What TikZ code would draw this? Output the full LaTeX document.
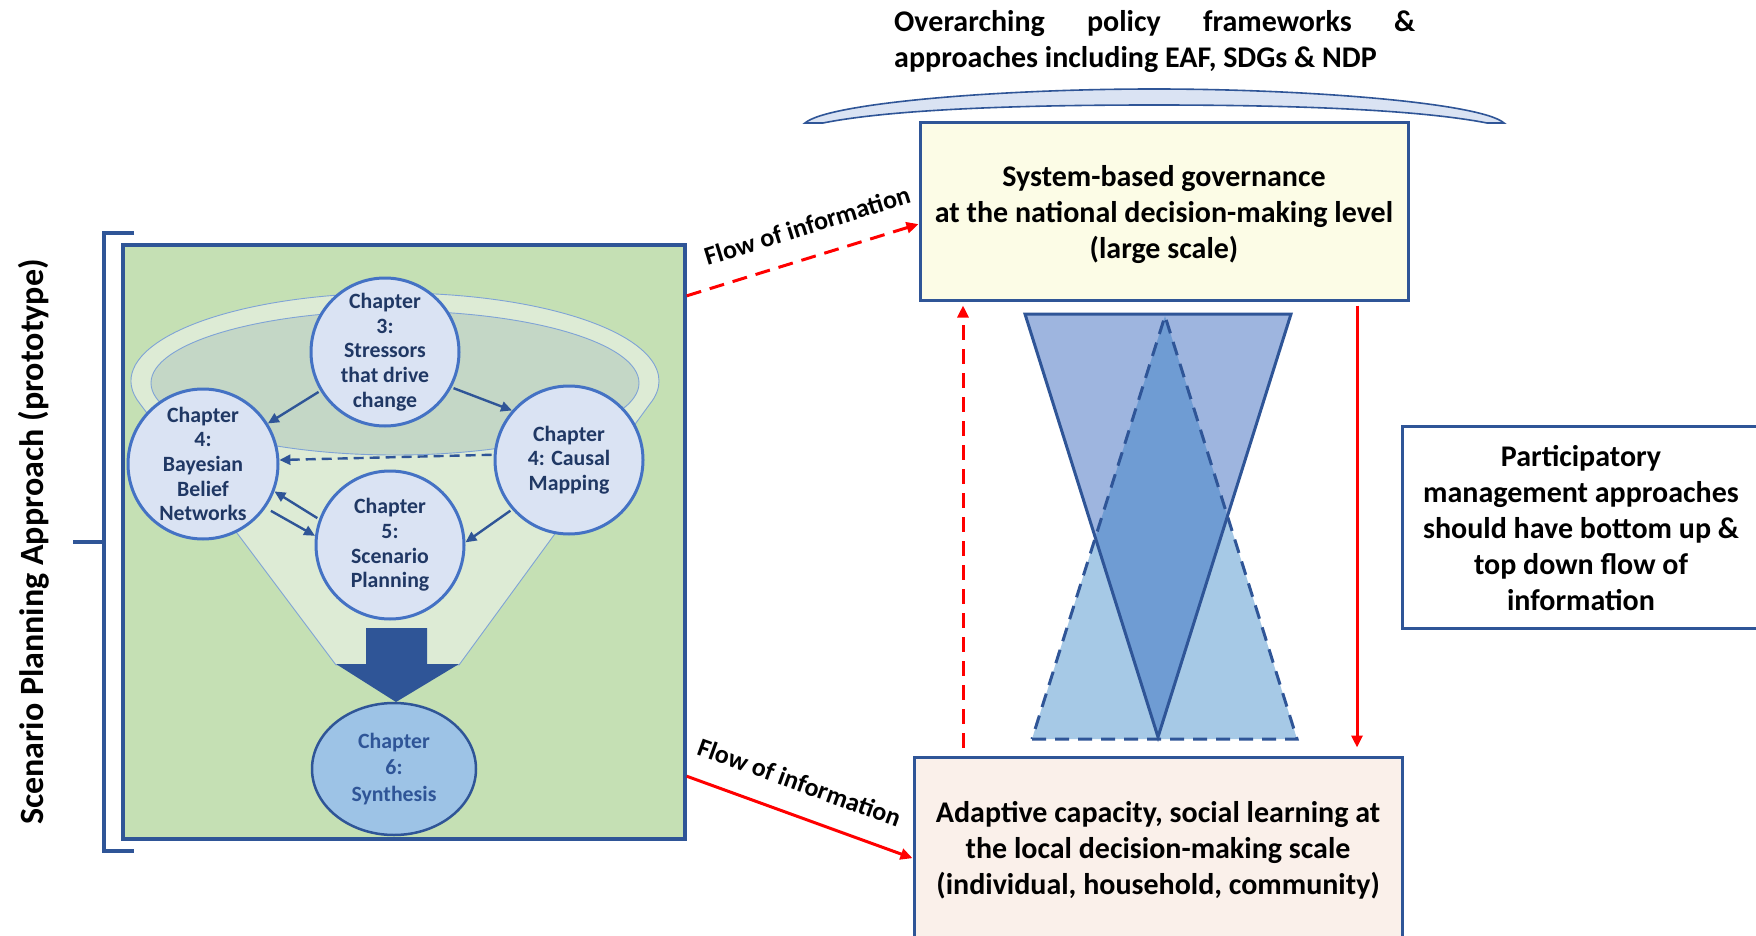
\documentclass[tikz,border=0pt]{standalone}
\usepackage{fontspec}
\setmainfont{Carlito}
\usetikzlibrary{arrows.meta,calc,shapes.geometric}
\definecolor{dblue}{HTML}{2F5597}
\definecolor{cblue}{HTML}{4472C4}
\definecolor{cfill}{HTML}{DAE3F3}
\definecolor{ctext}{HTML}{203864}
\definecolor{gfill}{HTML}{C5E0B4}
\definecolor{flight}{HTML}{DDEBD5}
\definecolor{finner}{HTML}{C4D7C6}
\definecolor{fedge}{HTML}{7FA3D6}
\definecolor{sfill}{HTML}{9DC3E6}
\definecolor{yfill}{HTML}{FCFCE6}
\definecolor{pfill}{HTML}{FAF0EA}
\definecolor{downtri}{HTML}{9EB5DF}
\definecolor{uptri}{HTML}{A6C9E6}
\definecolor{overlap}{HTML}{6F9CD3}
\begin{document}
\begin{tikzpicture}[x=1pt,y=-1pt,
  chap/.style={circle, draw=cblue, line width=3pt, fill=cfill, text=ctext,
    font=\bfseries\fontsize{21.8}{24.6}\selectfont, align=center, inner sep=0pt, minimum size=148pt},
  bigbox/.style={draw=dblue, line width=3pt, inner sep=0pt},
  boxtxt/.style={align=center, font=\bfseries\fontsize{30}{36}\selectfont, inner sep=0pt},
  flow/.style={red, line width=3pt, -{Triangle[length=12pt,width=11pt]}},
  inarrow/.style={dblue, line width=2.4pt, -{Triangle[length=11pt,width=10pt]}, shorten <=2pt},
  lbl/.style={font=\bfseries\fontsize{26}{30}\selectfont, text=black, inner sep=0pt},
  redash/.style={dash pattern=on 15pt off 9pt}
]
\useasboundingbox (0,0) rectangle (1756,936);
\clip (0,0) rectangle (1756,936);
\fill[white] (0,0) rectangle (1756,936);

% ---- left panel ----
\node[draw=dblue, line width=3.5pt, fill=gfill, minimum width=562pt, minimum height=594pt, inner sep=0pt] (gbox) at (404,542) {};
\draw[dblue, line width=4.5pt] (134,233) -- (104,233) -- (104,851) -- (134,851);
\draw[dblue, line width=4.5pt] (73,542) -- (104,542);
\node[rotate=90, font=\bfseries\fontsize{34}{38}\selectfont] (vlabel) at (34,542) {Scenario Planning Approach (prototype)};

% funnel
\path[fill=flight, draw=fedge, line width=0.9pt] (395,381) ++(165:264 and 88)
  arc[start angle=165, end angle=375, x radius=264, y radius=88] -- (459,665) -- (336,665) -- cycle;
\path[fill=finner, draw=fedge, line width=0.9pt] (395,383) ellipse [x radius=244, y radius=72];

% block arrow
\fill[dblue] (366,628) -- (427,628) -- (427,664) -- (459,664) -- (396,702) -- (336,664) -- (366,664) -- cycle;

% chapters
\node[chap] (ch3) at (385,352) {Chapter\\3:\\Stressors\\that drive\\change};
\node[chap, minimum size=150pt] (bbn) at (203,464) {Chapter\\4:\\Bayesian\\Belief\\Networks};
\node[chap] (cm) at (569,460) {Chapter\\4: Causal\\Mapping};
\node[chap] (ch5) at (390,545) {Chapter\\5:\\Scenario\\Planning};
\node[ellipse, draw=dblue, line width=2.5pt, fill=sfill, text=dblue, inner sep=0pt,
  minimum width=164pt, minimum height=132pt, align=center,
  font=\bfseries\fontsize{21.8}{26.5}\selectfont] (ch6) at (394,769) {Chapter\\6:\\Synthesis};

\draw[inarrow] (ch3.211) -- (bbn.32);
\draw[inarrow] (ch3.-28) -- (cm.139);
\draw[inarrow, dash pattern=on 10pt off 6pt] (cm.176) -- (bbn.3);
\draw[inarrow] (ch5.160) -- (bbn.-21);
\draw[inarrow, shorten <=6pt] (bbn.-35) -- (ch5.173);
\draw[inarrow] (cm.221) -- (ch5.2);

% ---- right panel ----
\node[anchor=north west, text width=521pt, align=justify, inner sep=0pt,
  font=\bfseries\fontsize{30}{36}\selectfont] (over) at (894,10)
  {Overarching policy frameworks \&\linebreak approaches including EAF, SDGs \& NDP};
\path[fill=cfill, draw=dblue, line width=1.6pt]
  (805,123) .. controls (828,103) and (1000,89) .. (1154,89)
  .. controls (1308,89) and (1481,103) .. (1504,123)
  -- (1487,123) .. controls (1420,110) and (1300,105) .. (1154,105)
  .. controls (1008,105) and (888,110) .. (823,123) -- cycle;

\node[bigbox, fill=yfill, minimum width=488pt, minimum height=177pt] (top) at (1164,211.5) {};
\node[boxtxt] (toptxt) at ($(top.center)+(0,3.5)$)
  {System-based governance\\at the national decision-making level\\(large scale)};
\node[bigbox, fill=pfill, minimum width=488pt, minimum height=183pt] (bot) at (1158,848.5) {};
\node[boxtxt] (bottxt) at ($(bot.center)+(0,2)$)
  {Adaptive capacity, social learning at\\the local decision-making scale\\(individual, household, community)};
\node[bigbox, fill=white, minimum width=358pt, minimum height=202pt] (part) at (1581,527) {};
\node[boxtxt] (parttxt) at ($(part.center)+(0,1)$)
  {Participatory\\management approaches\\should have bottom up \&\\top down flow of\\information};

% hourglass
\fill[uptri] (1032,739) -- (1297,739) -- (1165,316) -- cycle;
\fill[downtri] (1025,314) -- (1291,314) -- (1158,737) -- cycle;
\begin{scope}
  \clip (1025,314) -- (1291,314) -- (1158,737) -- cycle;
  \fill[overlap] (1032,739) -- (1297,739) -- (1165,316) -- cycle;
\end{scope}
\draw[dblue, line width=3pt, dash pattern=on 14pt off 9pt] (1032,739) -- (1297,739) -- (1165,316) -- cycle;
\draw[dblue, line width=3pt] (1025,314) -- (1291,314) -- (1158,737) -- cycle;

% red flows
\draw[flow, redash] ($(gbox.north east)!0.088!(gbox.south east)$) -- ($(top.north west)!0.57!(top.south west)$)
  node[lbl, pos=0.56, sloped, above=21pt] {Flow of information};
\draw[flow] ($(gbox.north east)!0.892!(gbox.south east)$) -- ($(bot.north west)!0.552!(bot.south west)$)
  node[lbl, pos=0.45, sloped, above=22pt] {Flow of information};
\coordinate (vl) at (963,0);
\coordinate (vr) at (1357,0);
\draw[flow, redash, shorten <=8pt, shorten >=4pt] (bot.north -| vl) -- (top.south -| vl);
\draw[flow, shorten <=4pt, shorten >=8pt] (top.south -| vr) -- (bot.north -| vr);
\end{tikzpicture}
\end{document}
